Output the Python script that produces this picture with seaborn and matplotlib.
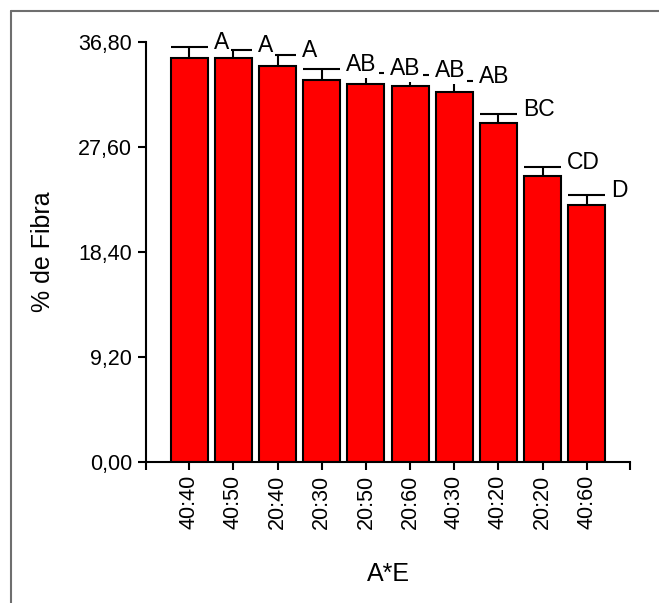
import matplotlib
matplotlib.use("Agg")
import matplotlib.pyplot as plt
from matplotlib.lines import Line2D
import numpy as np
import seaborn as sns

# data
treatments = ["40:40", "40:50", "20:40", "20:30", "20:50", "20:60", "40:30", "40:20", "20:20", "40:60"]
fibra = [35.38, 35.38, 34.70, 33.48, 33.13, 32.95, 32.46, 29.74, 25.07, 22.50]
fibra_err = [0.95, 0.72, 0.97, 0.93, 0.93, 0.95, 0.96, 0.76, 0.76, 0.90]
letters = ["A", "A", "A", "AB", "AB", "AB", "AB", "BC", "CD", "D"]
y_ticks = [0.0, 9.2, 18.4, 27.6, 36.8]

sns.set_style("ticks")
plt.rcParams["font.family"] = ["Liberation Sans", "DejaVu Sans"]
plt.rcParams["font.size"] = 15
for k in ["text.color", "axes.labelcolor", "xtick.color", "ytick.color"]:
    plt.rcParams[k] = "black"

W, H = 659, 603
fig = plt.figure(figsize=(W / 100, H / 100), dpi=100)
ax = fig.add_axes([146 / W, 1 - 462 / H, (630 - 146) / W, (462 - 42) / H])

lw = 1.5
bw = 0.84
sns.barplot(x=treatments, y=fibra, order=treatments, color="#ff0000", saturation=1,
            edgecolor="black", linewidth=lw, width=bw, errorbar=None, ax=ax, zorder=2)

# upper-only error bars with caps as wide as the bar
xpos = np.arange(len(treatments))
tops = np.array(fibra) + np.array(fibra_err)
ax.vlines(xpos, fibra, tops, color="black", lw=lw, zorder=3)
ax.hlines(tops, xpos - bw / 2, xpos + bw / 2, color="black", lw=lw, zorder=3)

for i, (top, lab) in enumerate(zip(tops, letters)):
    ax.annotate(lab, xy=(i + bw / 2, top), xytext=(4.3, -1.5), textcoords="offset points",
                ha="left", va="baseline", fontsize=16.5, zorder=4, annotation_clip=False,
                bbox=dict(boxstyle="square,pad=0.08", fc="white", ec="none"))

ax.set_xlim(-0.98, 9.98)
ax.set_ylim(0, 36.8)
ax.set_yticks(y_ticks)
ax.set_yticklabels([f"{t:.2f}".replace(".", ",") for t in y_ticks])
ax.set_xticks(xpos)
ax.set_xticklabels(treatments, rotation=90)
ax.set_xticks([-0.98, 9.98], minor=True)

ax.tick_params(axis="both", which="both", length=6, width=lw, color="black", labelsize=15.5)
ax.tick_params(axis="x", pad=3)
ax.tick_params(axis="y", pad=4)
sns.despine(ax=ax)
for s in ["left", "bottom"]:
    ax.spines[s].set_linewidth(lw)
    ax.spines[s].set_color("black")

ax.set_ylabel("% de Fibra", fontsize=18, labelpad=17)
ax.set_xlabel("A*E", fontsize=18, labelpad=24)

# outer frame (only top and left visible)
fc = "#6e6e6e"
fig.add_artist(Line2D([10.5 / W, 1], [1 - 10.5 / H] * 2, transform=fig.transFigure, color=fc, lw=1.5))
fig.add_artist(Line2D([10.5 / W] * 2, [0, 1 - 10.5 / H], transform=fig.transFigure, color=fc, lw=1.5))

fig.savefig("out.png", dpi=100)
